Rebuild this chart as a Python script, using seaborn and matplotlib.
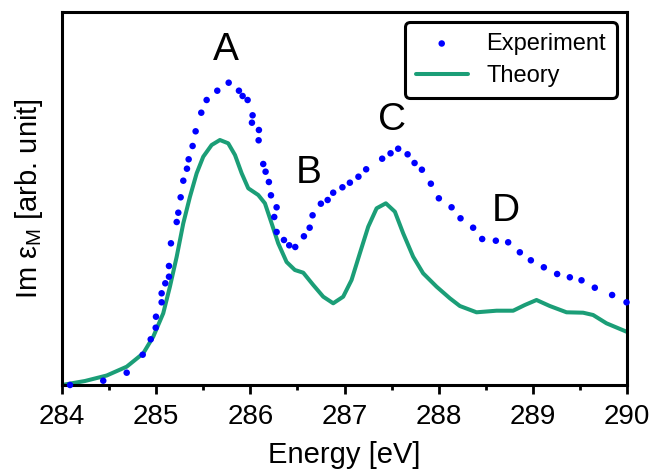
import matplotlib
matplotlib.use("Agg")
import matplotlib.pyplot as plt
import seaborn as sns
import pandas as pd
from matplotlib.ticker import MultipleLocator

# Experimental spectrum (eV, arb. unit)
exp_energy = [284.085, 284.438, 284.687, 284.857, 284.942, 284.995, 284.998, 285.058, 285.058,
              285.097, 285.136, 285.136, 285.157, 285.218, 285.235, 285.260, 285.288, 285.327,
              285.345, 285.387, 285.419, 285.479, 285.536, 285.649, 285.770, 285.879, 285.918,
              285.971, 286.024, 286.017, 286.091, 286.088, 286.137, 286.162, 286.197, 286.219,
              286.279, 286.254, 286.279, 286.357, 286.413, 286.477, 286.569, 286.630, 286.661,
              286.749, 286.821, 286.880, 286.978, 287.057, 287.148, 287.230, 287.400, 287.489,
              287.570, 287.670, 287.744, 287.822, 287.917, 288.002, 288.137, 288.232, 288.366,
              288.462, 288.607, 288.738, 288.862, 288.979, 289.117, 289.258, 289.393, 289.517,
              289.658, 289.842, 289.995]
exp_signal = [0, 4.3, 12.3, 30.3, 45.7, 57.3, 68.3, 82.7, 91.7,
              101.7, 108.3, 119, 141.7, 163, 172.3, 187.7, 204.3, 216.3,
              225.7, 239, 253.7, 272.3, 285, 294.3, 302.3, 294.3, 289,
              285, 269.7, 262.3, 255, 244.7, 221, 213.3, 203, 189.7,
              177.7, 168, 153, 145, 139.7, 138, 148.7, 157.3, 169.7,
              181.3, 185, 192.3, 197.7, 202.3, 208.3, 215.7, 226.3, 231.7,
              236.3, 230.7, 222, 215.3, 201.3, 186.7, 177.7, 166.7, 157.3,
              146, 144.3, 142.7, 132.7, 124.7, 117.7, 111, 107.7, 104.7,
              97.3, 90, 82.7]

# Theoretical spectrum
th_energy = [284.000, 284.244, 284.475, 284.687, 284.863, 284.969, 285.075, 285.146, 285.218,
             285.288, 285.359, 285.430, 285.500, 285.589, 285.677, 285.765, 285.837, 285.908,
             285.978, 286.084, 286.155, 286.226, 286.296, 286.385, 286.473, 286.562, 286.668,
             286.774, 286.880, 286.986, 287.075, 287.163, 287.252, 287.341, 287.439, 287.535,
             287.623, 287.729, 287.835, 287.978, 288.119, 288.225, 288.402, 288.615, 288.791,
             288.915, 289.039, 289.180, 289.358, 289.534, 289.640, 289.782, 289.995]
th_signal = [0, 4, 9.5, 18.3, 31.7, 48.3, 71.7, 98.3, 128.3,
             161.7, 188.3, 211.7, 228.3, 240, 245, 241.7, 230, 211.7,
             196.7, 190, 181.7, 161.7, 141.7, 123, 115, 112.3, 100,
             88.3, 81.7, 88.3, 105, 131.7, 158.3, 176.7, 181.7, 173.3,
             151.7, 128.3, 111.7, 98.3, 86.7, 79, 72.7, 74.3, 74.3,
             80, 85, 79, 72.7, 72.3, 70, 61.7, 53.3]

# Peak labels
peak_names = ["A", "B", "C", "D"]
peak_x = [285.74, 286.62, 287.50, 288.71]
peak_y = [335, 212, 265, 174]

exp_df = pd.DataFrame({"energy": exp_energy, "signal": exp_signal})
th_df = pd.DataFrame({"energy": th_energy, "signal": th_signal})

sns.set_style("white", rc={"text.color": "black", "axes.labelcolor": "black",
                           "xtick.color": "black", "ytick.color": "black",
                           "axes.edgecolor": "black"})
plt.rcParams["font.family"] = ["Liberation Sans", "DejaVu Sans"]

fig = plt.figure(figsize=(6.55, 4.72), dpi=100)
ax = fig.add_axes([62 / 655, 1 - 385 / 472, 565 / 655, 373 / 472])

sns.scatterplot(data=exp_df, x="energy", y="signal", ax=ax, color="#0000ff",
                s=22, edgecolor="none", label="Experiment", clip_on=False, zorder=3)
sns.lineplot(data=th_df, x="energy", y="signal", ax=ax, color="#1b9e77",
             linewidth=2.9, label="Theory", zorder=2)

for name, x, y in zip(peak_names, peak_x, peak_y):
    ax.text(x, y, name, fontsize=28, ha="center", va="center", color="black")

ax.set_xlim(284, 290)
ax.set_ylim(0, 373)
ax.set_yticks([])
ax.xaxis.set_major_locator(MultipleLocator(1))
ax.xaxis.set_minor_locator(MultipleLocator(0.5))
ax.tick_params(axis="x", which="major", direction="out", length=6.5, width=2,
               labelsize=20, bottom=True, pad=7)
ax.tick_params(axis="x", which="minor", direction="out", length=3.5, width=2, bottom=True)
for sp in ax.spines.values():
    sp.set_linewidth(2.2)
    sp.set_color("black")

ax.set_xlabel("Energy [eV]", fontsize=21, labelpad=8)
ax.set_ylabel(r"Im ε$_\mathregular{M}$ [arb. unit]", fontsize=21, labelpad=12)

leg = ax.legend(loc="upper right", fontsize=17, frameon=True, fancybox=True,
                bbox_to_anchor=(0.982, 0.973), borderaxespad=0, handlelength=2.2,
                borderpad=0.45, labelspacing=0.45, handletextpad=0.8, markerscale=1.0)
leg.get_frame().set_edgecolor("black")
leg.get_frame().set_linewidth(2.2)
leg.get_frame().set_alpha(1)

fig.savefig("out.png", dpi=100)
